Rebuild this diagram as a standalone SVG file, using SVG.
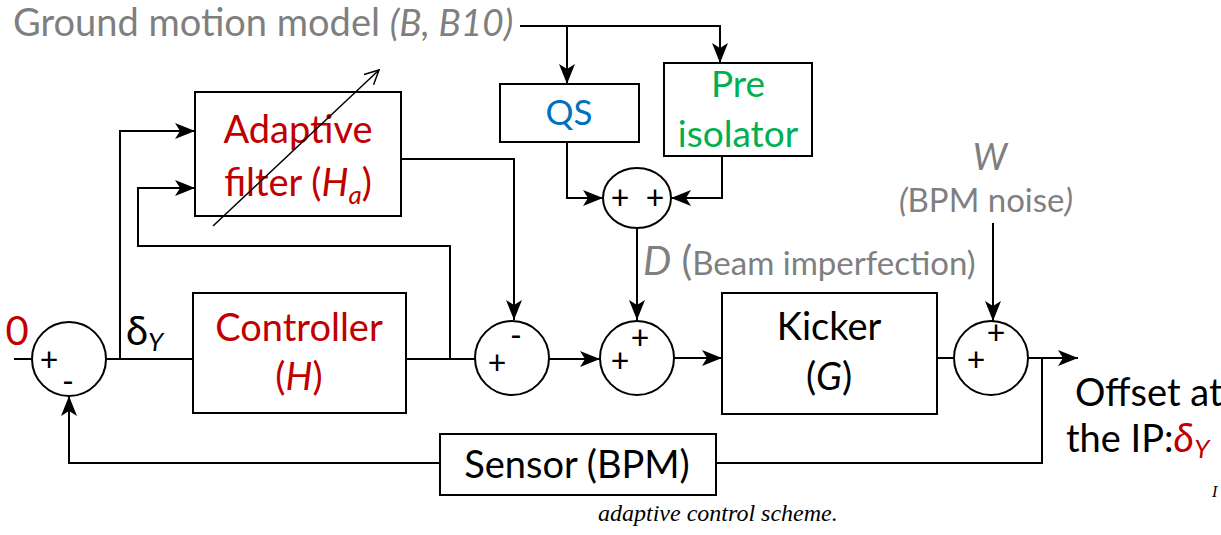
<svg xmlns="http://www.w3.org/2000/svg" width="1221" height="535" viewBox="0 0 1221 535">
<defs>
<style>
.ln{fill:none;stroke:#000;stroke-width:2}
.bx{fill:#fff;stroke:#000;stroke-width:2}
.t{font-family:Lato,"Liberation Sans",sans-serif;text-anchor:middle}
.st{text-anchor:start}
.g{fill:#7f7f7f}
.r{fill:#c00000}
.k{fill:#000}
.s{font-family:Lato,"Liberation Sans",sans-serif;font-size:32px;fill:#000;text-anchor:middle}
</style>
<marker id="a" markerUnits="userSpaceOnUse" markerWidth="22" markerHeight="22" viewBox="0 0 22 22" refX="20" refY="11" orient="auto">
<path d="M0,3 L20,11 L0,19 L5,11 Z" fill="#000"/>
</marker>
<marker id="o" markerUnits="userSpaceOnUse" markerWidth="20" markerHeight="20" viewBox="0 0 20 20" refX="18" refY="10" orient="auto">
<path d="M4,3 L18,10 L4,17" fill="none" stroke="#000" stroke-width="1.5"/>
</marker>
</defs>
<rect width="1221" height="535" fill="#fff"/>
<g id="connectors">
<path class="ln" d="M520,26 H720 V63" marker-end="url(#a)"/>
<path class="ln" d="M567,26 V84" marker-end="url(#a)"/>
<path class="ln" d="M567,142 V198 H603" marker-end="url(#a)"/>
<path class="ln" d="M722,156 V198 H671" marker-end="url(#a)"/>
<path class="ln" d="M637,228 V320" marker-end="url(#a)"/>
<path class="ln" d="M14,359 H32"/>
<path class="ln" d="M106,359 H193"/>
<path class="ln" d="M120,359 V131 H195" marker-end="url(#a)"/>
<path class="ln" d="M406,359 H475"/>
<path class="ln" d="M450,359 V246 H138 V188 H195" marker-end="url(#a)"/>
<path class="ln" d="M401,159 H514 V320" marker-end="url(#a)"/>
<path class="ln" d="M549,359 H600" marker-end="url(#a)"/>
<path class="ln" d="M674,358 H722" marker-end="url(#a)"/>
<path class="ln" d="M937,358 H954"/>
<path class="ln" d="M1028,358 H1078" marker-end="url(#a)"/>
<path class="ln" d="M993,223 V321" marker-end="url(#a)"/>
<path class="ln" d="M1042,358 V463 H716"/>
<path class="ln" d="M440,463 H69 V396" marker-end="url(#a)"/>
</g>
<g id="ground">
<text class="t st g" x="13" y="36" font-size="38">Ground motion model <tspan font-style="italic" font-size="37">(B, B10)</tspan></text>
</g>
<g id="qs">
<rect class="bx" x="500" y="84" width="139" height="58"/>
<text class="t" x="569" y="125" font-size="35" fill="#0070c0">QS</text>
</g>
<g id="preisolator">
<rect class="bx" x="664" y="63" width="148" height="93"/>
<text class="t" x="738" y="97" font-size="37" fill="#00b050">Pre</text>
<text class="t" x="738" y="147" font-size="37" fill="#00b050">isolator</text>
</g>
<g id="sum-top">
<ellipse cx="637" cy="198" rx="34" ry="30" class="bx"/>
<text class="s" x="620" y="209">+</text>
<text class="s" x="655" y="209">+</text>
</g>
<g id="d-label">
<text class="t st g" x="643" y="275" font-size="40"><tspan font-style="italic">D</tspan> (<tspan font-size="33">Beam imperfection)</tspan></text>
</g>
<g id="adaptive">
<rect class="bx" x="195" y="92" width="206" height="124"/>
<text class="t r" x="298" y="143" font-size="38">Adaptive</text>
<text class="t r" x="298" y="196" font-size="38">filter (<tspan font-style="italic">H</tspan><tspan font-style="italic" font-size="26" dy="8">a</tspan><tspan dy="-8">)</tspan></text>
<path d="M213,226 L379,70" fill="none" stroke="#000" stroke-width="1.5" marker-end="url(#o)"/>
</g>
<g id="sum-left">
<circle cx="69" cy="359" r="37" class="bx"/>
<text class="s" x="49" y="371">+</text>
<text class="s" x="68" y="393">-</text>
<text class="t r" x="17" y="345" font-size="40">0</text>
<text class="t st k" x="126" y="345" font-size="40">δ<tspan font-style="italic" font-size="26" dy="6">Y</tspan></text>
</g>
<g id="controller">
<rect class="bx" x="193" y="293" width="213" height="120"/>
<text class="t r" x="299" y="341" font-size="38">Controller</text>
<text class="t r" x="299" y="390" font-size="38">(<tspan font-style="italic">H</tspan>)</text>
</g>
<g id="sum-1">
<circle cx="512" cy="358" r="37" class="bx"/>
<text class="s" x="497" y="374">+</text>
<text class="s" x="516" y="347">-</text>
</g>
<g id="sum-2">
<circle cx="637" cy="358" r="37" class="bx"/>
<text class="s" x="620" y="372">+</text>
<text class="s" x="640" y="349">+</text>
</g>
<g id="kicker">
<rect class="bx" x="722" y="293" width="215" height="121"/>
<text class="t k" x="829" y="340" font-size="38">Kicker</text>
<text class="t k" x="829" y="390" font-size="38">(<tspan font-style="italic">G</tspan>)</text>
</g>
<g id="sum-right">
<circle cx="991" cy="358" r="37" class="bx"/>
<text class="s" x="976" y="371">+</text>
<text class="s" x="996" y="344">+</text>
<text class="t g" x="990" y="170" font-size="36" font-style="italic">W</text>
<text class="t g" x="986" y="212" font-size="33"><tspan font-style="italic">(</tspan>BPM noise<tspan font-style="italic">)</tspan></text>
</g>
<g id="sensor">
<rect class="bx" x="440" y="434" width="276" height="61"/>
<text class="t k" x="577" y="478" font-size="38">Sensor (BPM)</text>
</g>
<g id="output">
<text class="t st k" x="1075" y="406" font-size="38">Offset at</text>
<text class="t st k" x="1066" y="452" font-size="38">the IP:<tspan class="r" font-style="italic" font-size="40">δ</tspan><tspan class="r" font-style="italic" font-size="26" dy="6">Y</tspan></text>
</g>
<g id="caption">
<text x="598" y="521" font-family="'Liberation Serif',serif" font-style="italic" font-size="24" fill="#000">adaptive control scheme.</text>
<text x="1212" y="497" font-family="'Liberation Serif',serif" font-style="italic" font-size="16" fill="#000">I</text>
</g>
</svg>
